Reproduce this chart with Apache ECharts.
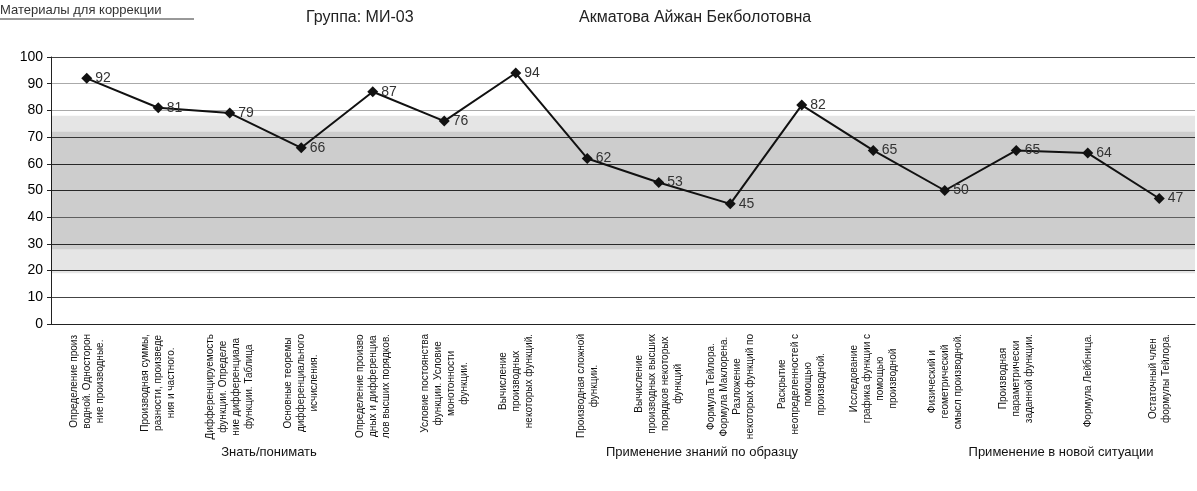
<!DOCTYPE html>
<html>
<head>
<meta charset="utf-8">
<script src="https://cdn.jsdelivr.net/npm/echarts@6/dist/echarts.min.js"></script>
<style>
html, body { margin: 0; padding: 0; background: #fff; }
#chart { width: 1197px; height: 491px; }
</style>
</head>
<body>
<div id="chart"></div>
<script>
// темы (подписи оси X)
const topics = [
  'Определение произ\nводной. Односторон\nние производные.',
  'Производная суммы,\nразности, произведе\nния и частного.',
  'Дифференцируемость\nфункции. Определе\nние дифференциала\nфункции. Таблица',
  'Основные теоремы\nдифференциального\nисчисления.',
  'Определение произво\nдных и дифференциа\nлов высших порядков.',
  'Условие постоянства\nфункции. Условие\nмонотонности\nфункции.',
  'Вычисление\nпроизводных\nнекоторых функций.',
  'Производная сложной\nфункции.',
  'Вычисление\nпроизводных высших\nпорядков некоторых\nфункций',
  'Формула Тейлора.\nФормула Маклорена.\nРазложение\nнекоторых функций по',
  'Раскрытие\nнеопределенностей с\nпомощью\nпроизводной.',
  'Исследование\nграфика функции с\nпомощью\nпроизводной',
  'Физический и\nгеометрический\nсмысл производной.',
  'Производная\nпараметрически\nзаданной функции.',
  'Формула Лейбница.',
  'Остаточный член\nформулы Тейлора.'
];
// результаты, %
const scores = [92, 81, 79, 66, 87, 76, 94, 62, 53, 45, 82, 65, 50, 65, 64, 47];
// уровни
const groups = ['Знать/понимать', 'Применение знаний по образцу', 'Применение в новой ситуации'];
const groupX = [269, 702, 1061];

const chart = echarts.init(document.getElementById('chart'));
const font = 'Liberation Sans, Arial, sans-serif';
const narrow = 'Liberation Sans Narrow, Liberation Sans, Arial, sans-serif';

chart.setOption({
  animation: false,
  backgroundColor: '#fff',
  grid: { left: 51, right: 2, top: 57, bottom: 167 },
  xAxis: {
    type: 'category',
    data: topics,
    boundaryGap: true,
    axisLine: { lineStyle: { color: '#222', width: 1 } },
    axisTick: { show: false },
    axisLabel: {
      interval: 0,
      rotate: 90,
      margin: 10,
      formatter: v => v.split('\n').map(s => '{c|' + s + '}').join('\n'),
      rich: {
        c: { align: 'center', fontSize: 10, lineHeight: 13, fontFamily: narrow, color: '#111' }
      }
    }
  },
  yAxis: {
    type: 'value',
    min: 0,
    max: 100,
    interval: 10,
    axisLine: { show: true, lineStyle: { color: '#222' } },
    axisTick: { show: true, length: 4, lineStyle: { color: '#222' } },
    axisLabel: { fontSize: 14, color: '#000', fontFamily: font, margin: 8 },
    splitLine: {
      lineStyle: {
        width: 1,
        color: ['#222', '#444', '#333', '#333', '#777', '#333', '#333', '#444', '#aaa', '#aaa', '#444']
      }
    }
  },
  graphic: [
    { type: 'text', left: 0, top: 4, style: { text: 'Материалы для коррекции', fontSize: 13, fontFamily: font, fill: '#333' } },
    { type: 'line', shape: { x1: 0, y1: 19, x2: 194, y2: 19 }, style: { stroke: '#333', lineWidth: 1 } },
    { type: 'text', left: 306, top: 10, style: { text: 'Группа: МИ-03', fontSize: 16, fontFamily: font, fill: '#222', letterSpacing: 0.5 } },
    { type: 'text', left: 579, top: 10, style: { text: 'Акматова Айжан Бекболотовна', fontSize: 16, fontFamily: font, fill: '#222', letterSpacing: 1.5 } }
  ].concat(groups.map((g, i) => ({
    type: 'text', x: groupX[i], y: 446,
    style: { text: g, fontSize: 13, fontFamily: narrow, fill: '#111', align: 'center' }
  }))),
  series: [{
    type: 'line',
    data: scores,
    symbol: 'diamond',
    symbolSize: 11,
    lineStyle: { color: '#111', width: 2 },
    itemStyle: { color: '#111' },
    label: {
      show: true,
      position: 'right',
      distance: 3,
      fontSize: 14,
      fontFamily: font,
      color: '#333'
    },
    markArea: {
      silent: true,
      data: [
        [{ yAxis: 19, itemStyle: { color: 'rgba(0,0,0,0.10)' } }, { yAxis: 78 }],
        [{ yAxis: 28, itemStyle: { color: 'rgba(0,0,0,0.10)' } }, { yAxis: 72 }]
      ]
    }
  }]
});
</script>
</body>
</html>
